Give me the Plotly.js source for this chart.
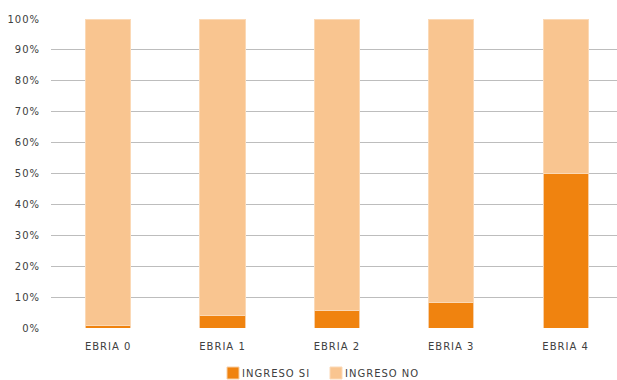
<!DOCTYPE html>
<html><head><meta charset="utf-8">
<script src="https://cdn.plot.ly/plotly-3.0.1.min.js"></script>
<style>html,body{margin:0;padding:0;background:#fff}#c{width:617px;height:380px}
.xtick text, .ytick text, .legendtext {letter-spacing:1px}
.legendtext {transform: translateX(-11px)}
</style>
</head><body><div id="c"></div>
<script>
var categories = ["EBRIA 0", "EBRIA 1", "EBRIA 2", "EBRIA 3", "EBRIA 4"];
var ingresoSi = [0.8, 3.9, 5.8, 8.1, 50];
var ingresoNo = [99.2, 96.1, 94.2, 91.9, 50];
var yTicks = [0,10,20,30,40,50,60,70,80,90,100];
var yTickLabels = yTicks.map(function(v){return v+"%";});

var font = {family: "'DejaVu Sans', sans-serif", size: 10, color: "#404040"};
var traces = [
  {type:"bar", name:"INGRESO SI", x:categories, y:ingresoSi,
   marker:{color:"#F0830F", line:{color:"#F7CFA6", width:1}}},
  {type:"bar", name:"INGRESO NO", x:categories, y:ingresoNo,
   marker:{color:"#F9C590", line:{color:"#FBD9B6", width:1}}}
];
var layout = {
  width:617, height:380, barmode:"stack", bargap:0.606,
  margin:{l:51, r:0, t:19, b:52},
  paper_bgcolor:"#fff", plot_bgcolor:"#fff",
  font: font, showlegend:true,
  legend:{orientation:"h", x:213/617, xanchor:"left", xref:"container",
          y:7/380, yanchor:"middle", yref:"container",
          entrywidth:58, entrywidthmode:"pixels",
          font:{family:font.family, size:10, color:"#404040"}, itemwidth:30, traceorder:"normal"},
  xaxis:{type:"category", range:[-0.5, 4.45], showgrid:false, zeroline:false,
         showline:false, ticks:"", tickfont:font, ticklabelstandoff:11, automargin:false},
  yaxis:{range:[0,100], tickvals:yTicks, ticktext:yTickLabels, showgrid:true,
         gridcolor:"#BDBDBD", gridwidth:1, zeroline:false, showline:false,
         ticks:"", tickfont:font, ticklabelstandoff:10, automargin:false}
};
Plotly.newPlot("c", traces, layout, {displayModeBar:false, staticPlot:true});
</script></body></html>
